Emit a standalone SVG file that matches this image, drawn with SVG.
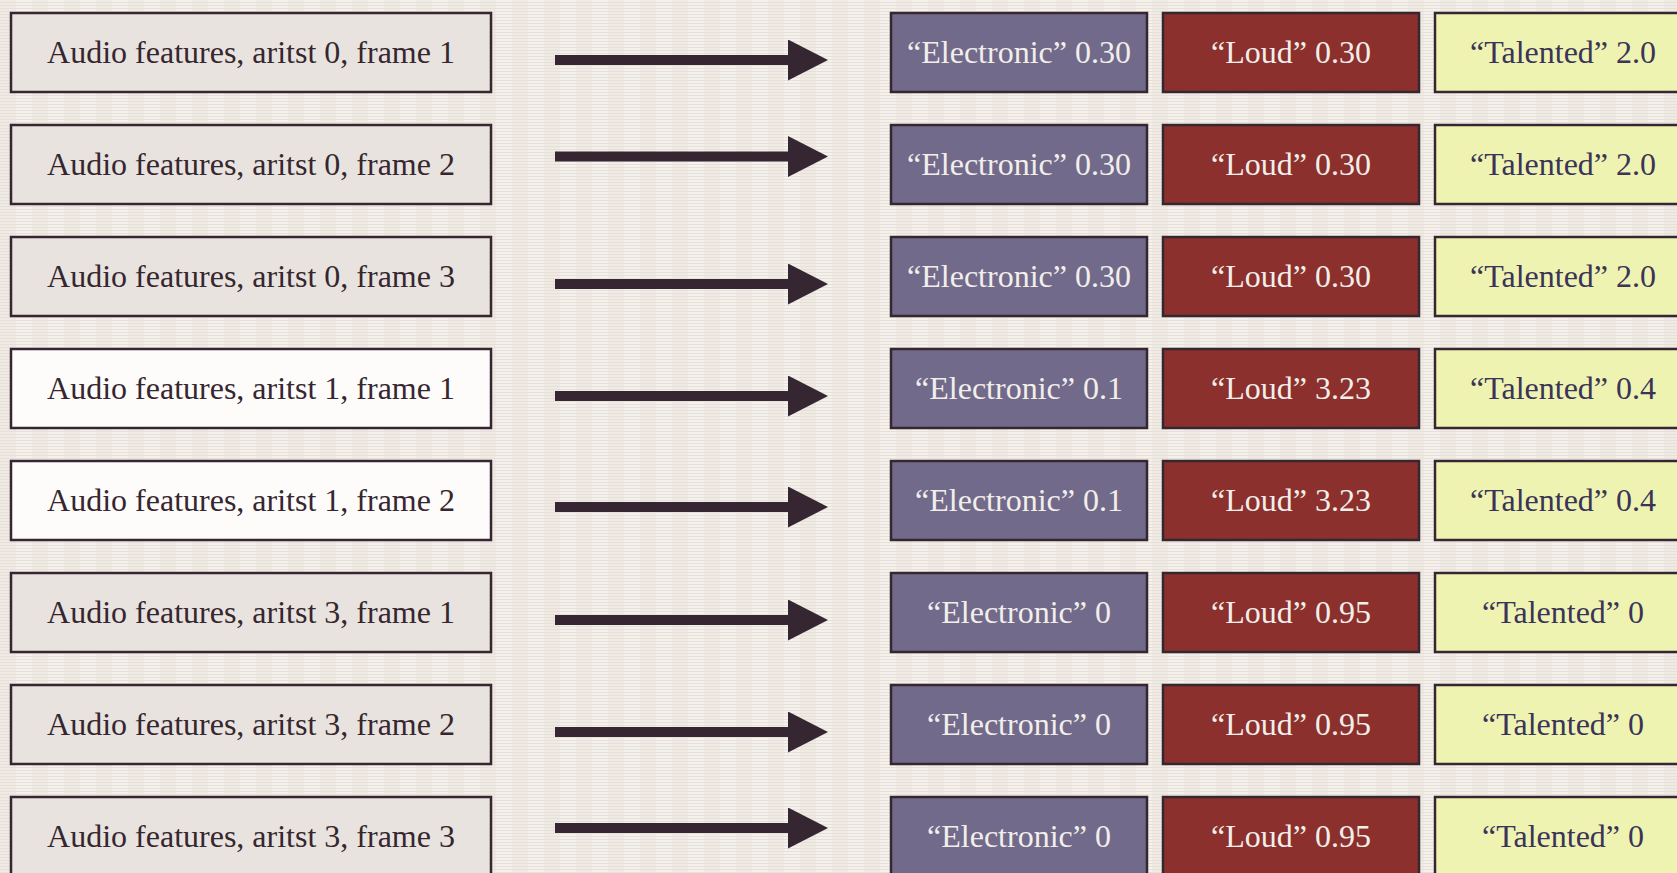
<svg xmlns="http://www.w3.org/2000/svg" width="1677" height="873" viewBox="0 0 1677 873">
  <defs>
    <!-- woven paper background: fine horizontal rules over wide vertical bands -->
    <pattern id="paper" x="0" y="0" width="32" height="3" patternUnits="userSpaceOnUse">
      <rect width="32" height="3" fill="#f5f2ee"/>
      <rect x="0" y="0" width="16" height="3" fill="#efeae4"/>
      <rect x="0" y="2" width="32" height="1" fill="#e7e0d8"/>
    </pattern>
    <marker id="head" viewBox="0 0 40 41" refX="0" refY="20.5" markerWidth="40" markerHeight="41" markerUnits="userSpaceOnUse" orient="auto">
      <path d="M0,0 L40,20.5 L0,41 Z" fill="#362631"/>
    </marker>
  </defs>
  <style>
    .box { stroke: #362631; stroke-width: 2.5; }
    .feat { fill: #e8e3de; }
    .feat-alt { fill: #fdfcfb; }
    .elec { fill: #716a8a; }
    .loud { fill: #8b302d; }
    .tal { fill: #eff3b2; }
    text { font-family: "Liberation Serif", "Times New Roman", serif; font-size: 32px; text-anchor: middle; }
    .t-feat { fill: #35262f; }
    .t-light { fill: #f2eeea; }
    .t-tal { fill: #3a3558; }
    .arrow { stroke: #362631; stroke-width: 10; fill: none; }
  </style>

  <rect width="1677" height="873" fill="url(#paper)"/>

  <!-- input frames -->
  <g id="frame-a0-f1"><rect class="box feat" x="11" y="13" width="480" height="79"/><text class="t-feat" x="251" y="63">Audio features, aritst 0, frame 1</text></g>
  <g id="frame-a0-f2"><rect class="box feat" x="11" y="125" width="480" height="79"/><text class="t-feat" x="251" y="175">Audio features, aritst 0, frame 2</text></g>
  <g id="frame-a0-f3"><rect class="box feat" x="11" y="237" width="480" height="79"/><text class="t-feat" x="251" y="287">Audio features, aritst 0, frame 3</text></g>
  <g id="frame-a1-f1"><rect class="box feat-alt" x="11" y="349" width="480" height="79"/><text class="t-feat" x="251" y="399">Audio features, aritst 1, frame 1</text></g>
  <g id="frame-a1-f2"><rect class="box feat-alt" x="11" y="461" width="480" height="79"/><text class="t-feat" x="251" y="511">Audio features, aritst 1, frame 2</text></g>
  <g id="frame-a3-f1"><rect class="box feat" x="11" y="573" width="480" height="79"/><text class="t-feat" x="251" y="623">Audio features, aritst 3, frame 1</text></g>
  <g id="frame-a3-f2"><rect class="box feat" x="11" y="685" width="480" height="79"/><text class="t-feat" x="251" y="735">Audio features, aritst 3, frame 2</text></g>
  <g id="frame-a3-f3"><rect class="box feat" x="11" y="797" width="480" height="79"/><text class="t-feat" x="251" y="847">Audio features, aritst 3, frame 3</text></g>

  <!-- connectors -->
  <g id="connectors">
    <line class="arrow" x1="555" y1="60" x2="788" y2="60" marker-end="url(#head)"/>
    <line class="arrow" x1="555" y1="156.5" x2="788" y2="156.5" marker-end="url(#head)"/>
    <line class="arrow" x1="555" y1="284" x2="788" y2="284" marker-end="url(#head)"/>
    <line class="arrow" x1="555" y1="396" x2="788" y2="396" marker-end="url(#head)"/>
    <line class="arrow" x1="555" y1="507" x2="788" y2="507" marker-end="url(#head)"/>
    <line class="arrow" x1="555" y1="620" x2="788" y2="620" marker-end="url(#head)"/>
    <line class="arrow" x1="555" y1="732" x2="788" y2="732" marker-end="url(#head)"/>
    <line class="arrow" x1="555" y1="828" x2="788" y2="828" marker-end="url(#head)"/>
  </g>

  <!-- tag outputs -->
  <g id="tags-1">
    <rect class="box elec" x="891" y="13" width="256" height="79"/><text class="t-light" x="1019" y="63">“Electronic” 0.30</text>
    <rect class="box loud" x="1163" y="13" width="256" height="79"/><text class="t-light" x="1291" y="63">“Loud” 0.30</text>
    <rect class="box tal" x="1435" y="13" width="256" height="79"/><text class="t-tal" x="1563" y="63">“Talented” 2.0</text>
  </g>
  <g id="tags-2">
    <rect class="box elec" x="891" y="125" width="256" height="79"/><text class="t-light" x="1019" y="175">“Electronic” 0.30</text>
    <rect class="box loud" x="1163" y="125" width="256" height="79"/><text class="t-light" x="1291" y="175">“Loud” 0.30</text>
    <rect class="box tal" x="1435" y="125" width="256" height="79"/><text class="t-tal" x="1563" y="175">“Talented” 2.0</text>
  </g>
  <g id="tags-3">
    <rect class="box elec" x="891" y="237" width="256" height="79"/><text class="t-light" x="1019" y="287">“Electronic” 0.30</text>
    <rect class="box loud" x="1163" y="237" width="256" height="79"/><text class="t-light" x="1291" y="287">“Loud” 0.30</text>
    <rect class="box tal" x="1435" y="237" width="256" height="79"/><text class="t-tal" x="1563" y="287">“Talented” 2.0</text>
  </g>
  <g id="tags-4">
    <rect class="box elec" x="891" y="349" width="256" height="79"/><text class="t-light" x="1019" y="399">“Electronic” 0.1</text>
    <rect class="box loud" x="1163" y="349" width="256" height="79"/><text class="t-light" x="1291" y="399">“Loud” 3.23</text>
    <rect class="box tal" x="1435" y="349" width="256" height="79"/><text class="t-tal" x="1563" y="399">“Talented” 0.4</text>
  </g>
  <g id="tags-5">
    <rect class="box elec" x="891" y="461" width="256" height="79"/><text class="t-light" x="1019" y="511">“Electronic” 0.1</text>
    <rect class="box loud" x="1163" y="461" width="256" height="79"/><text class="t-light" x="1291" y="511">“Loud” 3.23</text>
    <rect class="box tal" x="1435" y="461" width="256" height="79"/><text class="t-tal" x="1563" y="511">“Talented” 0.4</text>
  </g>
  <g id="tags-6">
    <rect class="box elec" x="891" y="573" width="256" height="79"/><text class="t-light" x="1019" y="623">“Electronic” 0</text>
    <rect class="box loud" x="1163" y="573" width="256" height="79"/><text class="t-light" x="1291" y="623">“Loud” 0.95</text>
    <rect class="box tal" x="1435" y="573" width="256" height="79"/><text class="t-tal" x="1563" y="623">“Talented” 0</text>
  </g>
  <g id="tags-7">
    <rect class="box elec" x="891" y="685" width="256" height="79"/><text class="t-light" x="1019" y="735">“Electronic” 0</text>
    <rect class="box loud" x="1163" y="685" width="256" height="79"/><text class="t-light" x="1291" y="735">“Loud” 0.95</text>
    <rect class="box tal" x="1435" y="685" width="256" height="79"/><text class="t-tal" x="1563" y="735">“Talented” 0</text>
  </g>
  <g id="tags-8">
    <rect class="box elec" x="891" y="797" width="256" height="79"/><text class="t-light" x="1019" y="847">“Electronic” 0</text>
    <rect class="box loud" x="1163" y="797" width="256" height="79"/><text class="t-light" x="1291" y="847">“Loud” 0.95</text>
    <rect class="box tal" x="1435" y="797" width="256" height="79"/><text class="t-tal" x="1563" y="847">“Talented” 0</text>
  </g>
</svg>
